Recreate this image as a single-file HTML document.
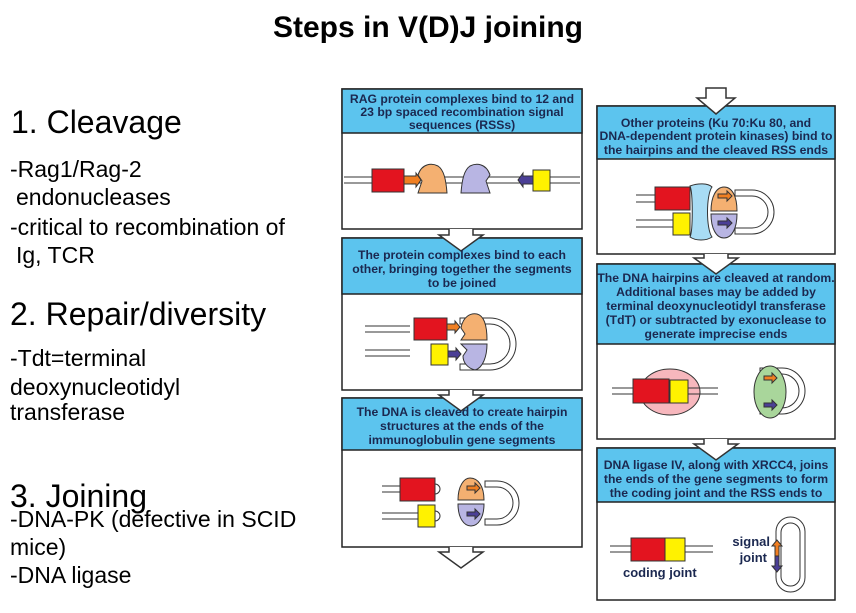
<!DOCTYPE html>
<html><head><meta charset="utf-8"><style>
html,body{margin:0;padding:0;background:#fff;}
svg{display:block;font-family:"Liberation Sans",Arial,sans-serif;}
.h{font-weight:bold;font-size:12.2px;fill:#1b2850;text-anchor:middle;}
.l{font-size:23px;fill:#000;}
.big{font-size:32px;fill:#000;}
</style></head><body>
<svg width="856" height="613" viewBox="0 0 856 613">
<text x="428" y="37" text-anchor="middle" font-weight="bold" font-size="30">Steps in V(D)J joining</text>

<text class="big" x="11" y="133">1. Cleavage</text>
<text class="l" x="10" y="177">-Rag1/Rag-2</text>
<text class="l" x="16" y="205">endonucleases</text>
<text class="l" x="10" y="235">-critical to recombination of</text>
<text class="l" x="16" y="263">Ig, TCR</text>
<text class="big" x="10" y="325">2. Repair/diversity</text>
<text class="l" x="10" y="366">-Tdt=terminal</text>
<text class="l" x="10" y="395">deoxynucleotidyl</text>
<text class="l" x="10" y="420">transferase</text>
<text class="big" x="10" y="507">3. Joining</text>
<text class="l" x="10" y="527">-DNA-PK (defective in SCID</text>
<text class="l" x="10" y="555">mice)</text>
<text class="l" x="10" y="583">-DNA ligase</text>

<g stroke="#222" stroke-width="1.5">
<rect x="342" y="89" width="240" height="140" fill="#fff"/>
<rect x="342" y="89" width="240" height="44" fill="#5cc4ee"/>
<rect x="342" y="238" width="240" height="152" fill="#fff"/>
<rect x="342" y="238" width="240" height="56" fill="#5cc4ee"/>
<rect x="342" y="398" width="240" height="149" fill="#fff"/>
<rect x="342" y="398" width="240" height="52" fill="#5cc4ee"/>
<rect x="597" y="106" width="238" height="148" fill="#fff"/>
<rect x="597" y="106" width="238" height="53" fill="#5cc4ee"/>
<rect x="597" y="264" width="238" height="175" fill="#fff"/>
<rect x="597" y="264" width="238" height="80" fill="#5cc4ee"/>
<rect x="597" y="448" width="238" height="152" fill="#fff"/>
<rect x="597" y="448" width="238" height="54" fill="#5cc4ee"/>
</g>
<g fill="#fff" stroke="#333" stroke-width="1.5">
<path d="M449 229 v6 h-10 l22 16 l22 -16 h-10 v-6"/>
<path d="M449 390 v5 h-10 l22 16 l22 -16 h-10 v-5"/>
<path d="M449 547 v5 h-10 l22 16 l22 -16 h-10 v-5"/>
<path d="M706 88 v10 h-9 l19 16 l19 -16 h-9 v-10 z"/>
<path d="M704 254 v4 h-10 l22 16 l22 -16 h-10 v-4"/>
<path d="M704 439 v5 h-10 l22 16 l22 -16 h-10 v-5"/>
</g>

<text class="h"><tspan x="462" y="103">RAG protein complexes bind to 12 and</tspan><tspan x="462" y="116">23 bp spaced recombination signal</tspan><tspan x="462" y="129">sequences (RSSs)</tspan></text>
<text class="h"><tspan x="462" y="259">The protein complexes bind to each</tspan><tspan x="462" y="273">other, bringing together the segments</tspan><tspan x="462" y="287">to be joined</tspan></text>
<text class="h"><tspan x="462" y="416">The DNA is cleaved to create hairpin</tspan><tspan x="462" y="430">structures at the ends of the</tspan><tspan x="462" y="444">immunoglobulin gene segments</tspan></text>
<text class="h"><tspan x="716" y="127">Other proteins (Ku 70:Ku 80, and</tspan><tspan x="716" y="140">DNA-dependent protein kinases) bind to</tspan><tspan x="716" y="154">the hairpins and the cleaved RSS ends</tspan></text>
<text class="h" font-size="11.4"><tspan x="716" y="282">The DNA hairpins are cleaved at random.</tspan><tspan x="716" y="296">Additional bases may be added by</tspan><tspan x="716" y="310">terminal  deoxynucleotidyl transferase</tspan><tspan x="716" y="324">(TdT) or subtracted by exonuclease to</tspan><tspan x="716" y="338">generate imprecise ends</tspan></text>
<text class="h" font-size="11.6"><tspan x="716" y="469">DNA ligase IV, along with XRCC4, joins</tspan><tspan x="716" y="483">the ends of the gene segments to form</tspan><tspan x="716" y="497">the coding joint and the RSS ends to</tspan></text>

<g stroke="#333" stroke-width="1">
<line x1="344" y1="177" x2="580" y2="177"/><line x1="344" y1="183" x2="580" y2="183"/>
<rect x="372" y="169" width="32" height="23" fill="#e3141f"/>
<path d="M404 176 h12 v-3 l5 7 l-5 7 v-3 h-12z" fill="#f07f22"/>
<path d="M418 193 l4 -12 l-4 -6 c4 -12 14 -12 20 -9 c6 4 8 14 9 27z" fill="#f4b071"/>
<path d="M490 193 l-4 -12 l4 -6 c-4 -12 -14 -12 -20 -9 c-6 4 -8 14 -9 27z" fill="#b8b5e3"/>
<path d="M533 176 h-10 v-3 l-5 7 l5 7 v-3 h10z" fill="#4b3f96"/>
<rect x="533" y="170" width="17" height="21" fill="#fff200"/>
<line x1="365" y1="326" x2="410" y2="326"/><line x1="365" y1="332" x2="410" y2="332"/>
<line x1="365" y1="350" x2="410" y2="350"/><line x1="365" y1="356" x2="410" y2="356"/>
<path d="M460 318 h30 a26 26 0 0 1 0 52 h-30 v-6 h30 a20 20 0 0 0 0 -40 h-30z" fill="#fff"/>
<rect x="414" y="318" width="33" height="22" fill="#e3141f"/>
<rect x="431" y="344" width="17" height="21" fill="#fff200"/>
<path d="M447 324 h8 v-3 l5 6 l-5 6 v-3 h-8z" fill="#f07f22"/>
<path d="M448 351 h8 v-3 l5 6 l-5 6 v-3 h-8z" fill="#4b3f96"/>
<path d="M461 340 l4 -6 l-4 -6 c2 -12 10 -15 16 -14 c8 2 10 14 10 26z" fill="#f4b071"/>
<path d="M461 344 h26 c0 12 -4 24 -12 26 c-8 -2 -12 -8 -12 -14 l4 -6z" fill="#b8b5e3"/>
<line x1="382" y1="486" x2="400" y2="486"/><line x1="382" y1="492" x2="400" y2="492"/>
<line x1="382" y1="513" x2="418" y2="513"/><line x1="382" y1="519" x2="418" y2="519"/>
<rect x="400" y="478" width="35" height="23" fill="#e3141f"/>
<path d="M435 484 a5 5 0 0 1 0 10" fill="none"/>
<rect x="418" y="505" width="17" height="22" fill="#fff200"/>
<path d="M435 511 a5 5 0 0 1 0 10" fill="none"/>
<path d="M485 481 h12 a22 22 0 0 1 0 44 h-12 v-6 h12 a16 16 0 0 0 0 -32 h-12z" fill="#fff"/>
<path d="M458 500 c0 -14 6 -22 12 -22 c8 0 14 8 14 22z" fill="#f4b071"/>
<path d="M458 504 h26 c0 14 -6 22 -13 22 c-7 0 -13 -8 -13 -22z" fill="#b8b5e3"/>
<path d="M467 486 h8 v-3 l5 5 l-5 5 v-3 h-8z" fill="#f07f22"/>
<path d="M467 512 h8 v-3 l5 5 l-5 5 v-3 h-8z" fill="#4b3f96"/>
<line x1="636" y1="195" x2="660" y2="195"/><line x1="636" y1="202" x2="660" y2="202"/>
<line x1="636" y1="220" x2="673" y2="220"/><line x1="636" y1="227" x2="673" y2="227"/>
<path d="M735 190 h17 a22 22 0 0 1 0 44 h-17 v-6 h17 a16 16 0 0 0 0 -32 h-17z" fill="#fff"/>
<rect x="655" y="187" width="35" height="23" fill="#e3141f"/>
<rect x="673" y="213" width="17" height="22" fill="#fff200"/>
<path d="M690 186 c8 -3 18 -3 22 1 c-6 8 -6 42 0 50 c-6 4 -16 4 -22 0 c3 -6 3 -44 0 -51z" fill="#a8dcf4"/>
<path d="M711 211 c0 -14 5 -24 13 -24 c8 0 13 9 13 24z" fill="#f4b071"/>
<path d="M711 214 h26 c0 14 -5 24 -13 24 c-8 0 -13 -10 -13 -24z" fill="#b8b5e3"/>
<path d="M718 194 h9 v-3 l5 5 l-5 5 v-3 h-9z" fill="#f07f22"/>
<path d="M718 221 h9 v-3 l5 5 l-5 5 v-3 h-9z" fill="#4b3f96"/>
<ellipse cx="670" cy="392" rx="30" ry="23" fill="#f7b7bd"/>
<line x1="612" y1="388" x2="718" y2="388"/><line x1="612" y1="394" x2="718" y2="394"/>
<rect x="633" y="379" width="36" height="24" fill="#e3141f"/>
<rect x="670" y="380" width="18" height="23" fill="#fff200"/>
<path d="M760 368 h22 a23 23 0 0 1 0 46 h-22 v-6 h22 a17 17 0 0 0 0 -34 h-22z" fill="#fff"/>
<ellipse cx="770" cy="392" rx="16" ry="26" fill="#a9d69b"/>
<path d="M764 376 h8 v-3 l5 5 l-5 5 v-3 h-8z" fill="#f07f22"/>
<path d="M764 403 h8 v-3 l5 5 l-5 5 v-3 h-8z" fill="#4b3f96"/>
<line x1="610" y1="546" x2="713" y2="546"/><line x1="610" y1="552" x2="713" y2="552"/>
<rect x="631" y="538" width="34" height="23" fill="#e3141f"/>
<rect x="665" y="538" width="20" height="23" fill="#fff200"/>
<rect x="776" y="517" width="29" height="75" rx="14.5" fill="#fff"/>
<rect x="781" y="523" width="19" height="63" rx="9.5" fill="#fff"/>
<path d="M775 556 v-10 h-3 l5 -6 l5 6 h-3 v10z" fill="#f07f22"/>
<path d="M775 556 v10 h-3 l5 6 l5 -6 h-3 v-10z" fill="#4b3f96"/>
</g>
<text x="623" y="577" font-size="13" font-weight="bold" fill="#1b2850">coding joint</text>
<text x="770" y="546" font-size="13" font-weight="bold" fill="#1b2850" text-anchor="end">signal</text>
<text x="767" y="562" font-size="13" font-weight="bold" fill="#1b2850" text-anchor="end">joint</text>
</svg>
</body></html>
